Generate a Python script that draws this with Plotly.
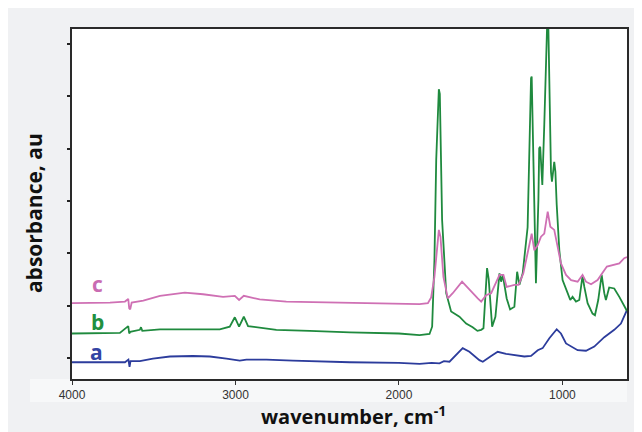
import plotly.graph_objects as go

# ---- data (wavenumber in cm-1, absorbance in arbitrary units) ----
a_wn = [4000, 3996, 3872, 3768, 3676, 3655, 3648, 3642, 3585, 3505, 3401, 3260, 3157, 3055,
        2974, 2933, 2811, 2649, 2546, 2300, 2000, 1874, 1800, 1752, 1725, 1691, 1610, 1569,
        1508, 1487, 1436, 1396, 1345, 1284, 1233, 1192, 1151, 1121, 1080, 1035, 1009, 978,
        947, 907, 856, 805, 744, 683, 642, 611, 605]
a_val = [-0.08, -0.08, -0.09, -0.09, -0.08, -0.03, -0.17, -0.06, -0.06, -0.01, 0.03, 0.04, 0.03, -0.01,
         -0.05, -0.03, -0.03, -0.05, -0.06, -0.08, -0.09, -0.11, -0.09, -0.10, -0.06, -0.07, 0.19, 0.12,
         -0.04, -0.07, 0.04, 0.12, 0.08, 0.06, 0.03, 0.04, 0.15, 0.19, 0.38, 0.55, 0.47, 0.28,
         0.22, 0.15, 0.14, 0.22, 0.40, 0.54, 0.66, 0.89, 0.92]

b_wn = [4000, 3996, 3872, 3707, 3656, 3650, 3644, 3585, 3578, 3570, 3462, 3260, 3096, 3035,
        3004, 2978, 2949, 2923, 2872, 2750, 2546, 2300, 2000, 1874, 1813, 1797, 1783, 1772,
        1756, 1750, 1736, 1732, 1711, 1681, 1630, 1589, 1549, 1520, 1497, 1483, 1461, 1451,
        1430, 1410, 1385, 1375, 1365, 1341, 1320, 1294, 1277, 1263, 1243, 1213, 1207, 1202,
        1192, 1188, 1182, 1176, 1162, 1147, 1142, 1136, 1129, 1123, 1111, 1100, 1094, 1086,
        1080, 1070, 1064, 1050, 1043, 1035, 1019, 999, 968, 952, 938, 917, 897, 877, 866,
        846, 816, 801, 781, 760, 744, 734, 714, 683, 652, 622, 612, 605]
b_val = [0.47, 0.47, 0.47, 0.48, 0.61, 0.47, 0.50, 0.54, 0.59, 0.52, 0.55, 0.55, 0.55, 0.60,
         0.78, 0.60, 0.79, 0.61, 0.59, 0.54, 0.52, 0.49, 0.47, 0.44, 0.46, 0.60, 1.87, 3.79,
         5.14, 5.05, 2.64, 2.38, 1.24, 0.89, 0.79, 0.66, 0.59, 0.52, 0.54, 0.57, 1.72, 1.51,
         0.60, 0.79, 1.62, 1.46, 1.59, 1.14, 0.93, 0.98, 1.65, 1.40, 1.62, 2.50, 3.37, 4.46,
         5.35, 5.38, 4.46, 2.93, 1.43, 3.02, 4.01, 4.04, 3.69, 3.31, 4.46, 6.05, 6.32, 6.32,
         5.41, 3.56, 3.37, 3.75, 3.56, 2.93, 2.06, 1.49, 1.24, 1.11, 1.17, 1.08, 1.11, 1.57, 1.36,
         1.05, 0.85, 0.82, 1.11, 1.59, 1.24, 1.11, 1.35, 1.33, 1.17, 0.98, 0.93, 0.90]

c_wn = [4000, 3996, 3768, 3676, 3656, 3650, 3644, 3635, 3564, 3462, 3310, 3198, 3076, 3004,
        2978, 2949, 2852, 2689, 2546, 2300, 2000, 1874, 1823, 1803, 1783, 1756, 1746, 1728,
        1701, 1671, 1614, 1569, 1518, 1497, 1467, 1436, 1385, 1361, 1341, 1294, 1268, 1239,
        1202, 1188, 1172, 1151, 1131, 1111, 1090, 1074, 1050, 1029, 1009, 978, 947, 907, 877,
        856, 825, 785, 760, 744, 728, 694, 652, 622, 605]
c_val = [1.05, 1.05, 1.06, 1.08, 1.13, 0.95, 0.93, 1.06, 1.10, 1.19, 1.25, 1.22, 1.17, 1.19,
         1.11, 1.19, 1.12, 1.08, 1.07, 1.05, 1.03, 1.03, 1.05, 1.16, 1.55, 2.45, 2.32, 1.55,
         1.14, 1.24, 1.46, 1.30, 1.14, 1.08, 1.20, 1.24, 1.59, 1.59, 1.36, 1.40, 1.40, 1.62,
         2.19, 2.38, 2.06, 2.16, 2.32, 2.38, 2.80, 2.51, 2.45, 2.13, 1.81, 1.59, 1.49, 1.46, 1.59,
         1.46, 1.41, 1.49, 1.62, 1.68, 1.75, 1.78, 1.81, 1.91, 1.93]

x_ticks = [4000, 3000, 2000, 1000]
y_ticks = [0, 1, 2, 3, 4, 5, 6]

series = [
    ("a", a_wn, a_val, "#2c3c9c"),
    ("b", b_wn, b_val, "#1f8a3e"),
    ("c", c_wn, c_val, "#cf70b4"),
]
label_pos = {"a": (3853, 0.11), "b": (3847, 0.69), "c": (3847, 1.41)}
label_col = {"a": "#3344a3", "b": "#21903f", "c": "#c96cb2"}

fig = go.Figure()
for name, wn, val, col in series:
    fig.add_trace(go.Scatter(x=wn, y=val, mode="lines", name=name,
                             line=dict(color=col, width=1.8), showlegend=False))

for name, (lx, ly) in label_pos.items():
    fig.add_annotation(x=lx, y=ly, xref="x", yref="y", text=f"<b>{name}</b>", showarrow=False,
                       font=dict(family="Open Sans", size=21, color=label_col[name]))

fig.add_annotation(x=0.5065, y=-0.104, xref="paper", yref="paper",
                   text="<b>wavenumber, cm<sup>-1</sup></b>", showarrow=False,
                   xanchor="center", yanchor="middle",
                   font=dict(family="Open Sans", size=20, color="#111"))
fig.add_annotation(x=-0.0685, y=0.474, xref="paper", yref="paper",
                   text="<b>absorbance, au</b>", showarrow=False, textangle=-90,
                   xanchor="center", yanchor="middle",
                   font=dict(family="Open Sans", size=21, color="#111"))

# lighter band behind the x tick labels
fig.add_shape(type="rect", xref="paper", yref="paper", x0=-0.0757, x1=1.0, y0=-0.066, y1=0,
              fillcolor="#f7f8f9", line_width=0, layer="below")

# the page body has an 8px margin, so the figure is sized to fit the 642x432 window
fig.update_layout(
    width=634, height=424,
    margin=dict(l=64, r=15, t=21, b=53),
    paper_bgcolor="#f0f1f3", plot_bgcolor="white",
    xaxis=dict(range=[4000, 605], tickvals=x_ticks, ticktext=[str(t) for t in x_ticks],
               ticks="outside", ticklen=4, tickwidth=1.3, tickcolor="#333",
               showline=True, linecolor="#2a2a2a", linewidth=1.5, mirror=True,
               showgrid=False, zeroline=False,
               tickfont=dict(family="Liberation Sans", size=12, color="#333")),
    yaxis=dict(range=[-0.4, 6.29], tickvals=y_ticks, showticklabels=False,
               ticks="outside", ticklen=3, tickwidth=1.5, tickcolor="#222",
               showline=True, linecolor="#2a2a2a", linewidth=1.5, mirror=True,
               showgrid=False, zeroline=False),
)

fig.write_html("out.html")
